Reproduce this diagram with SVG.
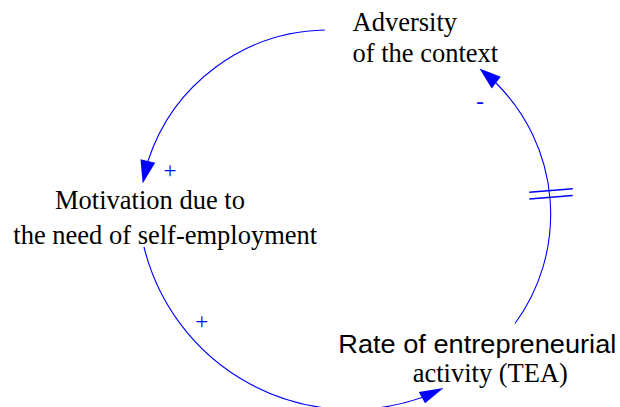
<svg xmlns="http://www.w3.org/2000/svg" width="620" height="407" viewBox="0 0 620 407">
  <style>
    .label { font-family: 'Liberation Serif', 'DejaVu Serif', serif; font-size: 26.5px; fill: #000; }
    .sans { font-family: 'Liberation Sans', sans-serif; font-size: 25.5px; fill: #000; }
    .link { fill: none; stroke: #0000ff; stroke-width: 1.1; }
    .delay { fill: none; stroke: #0000ff; stroke-width: 1.5; }
    .head { fill: #0000ff; stroke: none; }
    .polarity { font-family: 'Liberation Serif', 'DejaVu Serif', serif; font-size: 23px; fill: #0000ff; text-anchor: middle; }
  </style>

  <rect width="620" height="407" fill="#fff"/>

  <!-- causal links -->
  <g id="connectors">
    <!-- Adversity -> Motivation -->
    <path class="link" d="M 325 30 A 190 190 0 0 0 148 161"/>
    <polygon class="head" points="142.7,183.5 140.5,159.3 155.2,162.7"/>
    <text class="polarity" x="170" y="177.5">+</text>

    <!-- Motivation -> Rate of entrepreneurial activity -->
    <path class="link" d="M 144 247 A 213.5 213.5 0 0 0 422 397.5"/>
    <polygon class="head" points="443.5,388 418.8,392 425,403.2"/>
    <text class="polarity" x="201.7" y="329">+</text>

    <!-- Rate of entrepreneurial activity -> Adversity (delayed) -->
    <path class="link" d="M 515 323.5 A 185 185 0 0 0 496 83"/>
    <polygon class="head" points="479.5,68.5 491.7,88.5 500.8,76.8"/>
    <text class="polarity" x="480" y="109">-</text>
    <line class="delay" x1="529.3" y1="192.3" x2="572.7" y2="188.7"/>
    <line class="delay" x1="529.3" y1="199" x2="572.7" y2="195.4"/>
  </g>

  <g id="adversity">
    <text class="label" font-family="Liberation Serif, serif" x="352.5" y="30.7">Adversity</text>
    <text class="label" font-family="Liberation Serif, serif" x="352.5" y="61.7">of the context</text>
  </g>

  <g id="motivation">
    <text class="label" x="55" y="209.3">Motivation due to</text>
    <text class="label" x="13.3" y="243.5">the need of self-employment</text>
  </g>

  <g id="tea">
    <text class="sans" x="338.3" y="352.7" textLength="278" lengthAdjust="spacingAndGlyphs">Rate of entrepreneurial</text>
    <text class="label" x="412.7" y="381.7">activity (TEA)</text>
  </g>
</svg>
